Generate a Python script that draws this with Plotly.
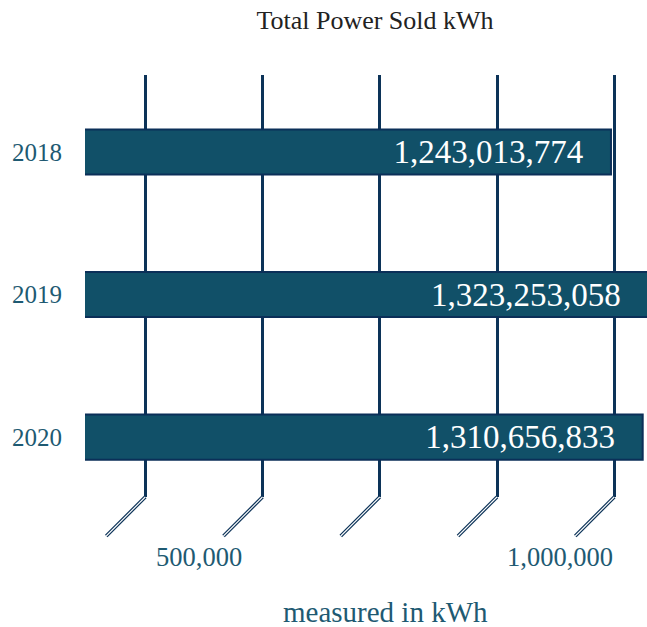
import plotly.graph_objects as go

# ---- data ----
years = ["2018", "2019", "2020"]
power_kwh = [1243013774, 1323253058, 1310656833]
grid_values = [250e6, 500e6, 750e6, 1000e6, 1250e6]
labeled_ticks = [500e6, 1000e6]
labeled_text = ["500,000", "1,000,000"]
label_shift = [-64, 63]
chart_title = "Total Power Sold kWh"
axis_title = "measured in kWh"

FONT = "Liberation Serif, Times New Roman, serif"
NAVY = "#0c3358"
TEAL_TXT = "#1e5a72"
BAR_FILL = "#115068"
BAR_LINE = "#0b2f58"

fig = go.Figure()
fig.add_trace(go.Bar(
    y=years,
    x=power_kwh,
    orientation="h",
    width=0.316,
    marker=dict(color=BAR_FILL, line=dict(color=BAR_LINE, width=2)),
    texttemplate="%{x:,}\u00a0\u00a0\u00a0",
    textposition="inside",
    insidetextanchor="end",
    textfont=dict(family=FONT, size=33, color="white"),
    hoverinfo="skip",
))

shapes = []
for v in grid_values:
    for col, w in ((NAVY, 3.5), ("white", 1.1)):
        shapes.append(dict(
            type="line", xref="x", yref="paper",
            xsizemode="pixel", xanchor=v, x0=0, x1=-39,
            ysizemode="pixel", yanchor=0, y0=0, y1=-39,
            line=dict(color=col, width=w),
        ))

annotations = []
for v, t, s in zip(labeled_ticks, labeled_text, label_shift):
    annotations.append(dict(
        x=v, xref="x", y=0, yref="paper", yshift=-60, xshift=s,
        text=t, showarrow=False, xanchor="center", yanchor="middle",
        font=dict(family=FONT, size=26.5, color=TEAL_TXT),
    ))
annotations.append(dict(
    x=0.534, xref="paper", y=-0.2725, yref="paper",
    text=axis_title, showarrow=False, xanchor="center", yanchor="middle",
    font=dict(family=FONT, size=29, color=TEAL_TXT),
))

fig.update_layout(
    width=647, height=627,
    margin=dict(l=85, r=0, t=75, b=130),
    paper_bgcolor="white", plot_bgcolor="white",
    showlegend=False,
    title=dict(text=chart_title, x=0.516, xref="paper", xanchor="center",
               y=0.968, yref="container", yanchor="middle",
               font=dict(family=FONT, size=26, color="#222222")),
    shapes=shapes,
    annotations=annotations,
    xaxis=dict(range=[0.12154e9, 1.31983e9], tickvals=grid_values,
               showticklabels=False, showgrid=True, gridcolor=NAVY,
               gridwidth=3, zeroline=False, showline=False, ticks=""),
    yaxis=dict(type="category", categoryorder="array", categoryarray=years,
               range=[2.42, -0.54], showgrid=False, zeroline=False,
               showline=False, ticks="", ticklabelstandoff=22,
               tickfont=dict(family=FONT, size=25, color=TEAL_TXT)),
)

fig.write_html(
    "out.html",
    config={"displayModeBar": False},
    post_script="document.body.style.margin='0';document.body.style.overflow='hidden';",
)
